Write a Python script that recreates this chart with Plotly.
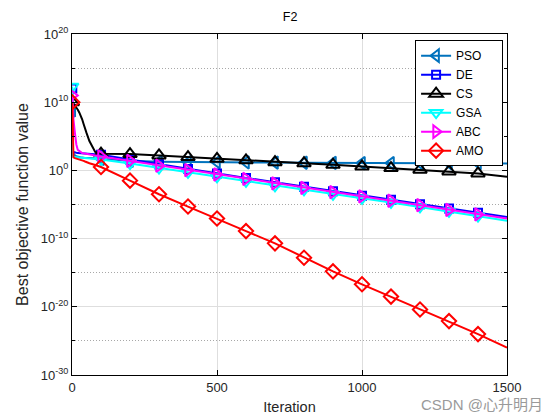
import plotly.graph_objects as go

# ---- data (log10 of best objective value) ----
ITER = [1, 2, 3, 5, 10, 15, 20, 25, 30, 35, 40, 45, 50, 60, 80,
        100, 200, 300, 400, 500, 600, 700, 800, 900, 1000, 1100, 1200, 1300, 1400, 1500]
MARK_ITERS = [1, 100, 200, 300, 400, 500, 600, 700, 800, 900, 1000, 1100, 1200, 1300, 1400]

PSO_LOG = [8.8, 4.0, 3.0, 2.5, 2.2, 2.1, 2.0, 1.95, 1.9, 1.9, 1.85, 1.85, 1.8, 1.8, 1.75,
           1.7, 1.4, 1.28, 1.22, 1.2, 1.18, 1.15, 1.12, 1.1, 1.08, 1.07, 1.06, 1.05, 1.05, 1.0]
DE_LOG = [12.0, 3.5, 2.9, 2.7, 2.6, 2.58, 2.56, 2.54, 2.52, 2.5, 2.48, 2.46, 2.45, 2.42, 2.38,
          2.3, 1.6, 0.9, 0.2, -0.45, -1.1, -1.75, -2.4, -3.05, -3.7, -4.3, -4.95, -5.6, -6.2, -6.85]
CS_LOG = [10.0, 10.0, 9.9, 9.8, 9.5, 9.3, 8.9, 8.5, 8.1, 7.5, 6.8, 6.0, 5.5, 4.3, 2.7,
          2.45, 2.4, 2.2, 1.95, 1.7, 1.47, 1.2, 1.05, 0.83, 0.59, 0.34, 0.1, -0.15, -0.45, -0.95]
GSA_LOG = [12.3, 3.0, 2.2, 2.0, 1.95, 1.93, 1.9, 1.88, 1.86, 1.84, 1.82, 1.8, 1.78, 1.74, 1.68,
           1.6, 1.0, 0.35, -0.3, -0.95, -1.6, -2.25, -2.85, -3.5, -4.1, -4.7, -5.35, -6.0, -6.7, -7.4]
ABC_LOG = [11.0, 10.0, 9.0, 7.5, 5.5, 3.8, 3.0, 2.8, 2.65, 2.55, 2.5, 2.45, 2.4, 2.3, 2.2,
           2.05, 1.4, 0.7, 0.05, -0.6, -1.25, -1.9, -2.55, -3.2, -3.8, -4.45, -5.1, -5.8, -6.45, -7.05]
AMO_LOG = [10.0, 5.0, 2.2, 1.9, 1.8, 1.75, 1.7, 1.6, 1.5, 1.45, 1.4, 1.3, 1.25, 1.05, 0.8,
           0.5, -1.5, -3.5, -5.3, -7.05, -8.9, -10.7, -12.8, -14.8, -16.7, -18.5, -20.4, -22.1, -24.0, -26.0]

NAMES = ["PSO", "DE", "CS", "GSA", "ABC", "AMO"]
SERIES = [PSO_LOG, DE_LOG, CS_LOG, GSA_LOG, ABC_LOG, AMO_LOG]
COLORS = ["#0072BD", "#0000FF", "#000000", "#00FFFF", "#FF00FF", "#FF0000"]
SYMBOLS = ["triangle-left-open", "square-open", "triangle-up-open",
           "triangle-down-open", "triangle-right-open", "diamond-open"]
SIZES = [11, 8, 12, 11, 11, 11]

Y_TICK_EXP = [20, 10, 0, -10, -20, -30]
Y_MINOR_EXP = [15, 5, -5, -15, -25]
X_TICKS = [0, 500, 1000, 1500]

FONT = "Liberation Sans, Arial, sans-serif"
PAD = "\u00a0" * 4  # right padding inside the legend box

fig = go.Figure()
for name, vals, col, sym, sz in zip(NAMES, SERIES, COLORS, SYMBOLS, SIZES):
    y = [10.0 ** v for v in vals]
    fig.add_trace(go.Scatter(x=ITER, y=y, mode="lines", line=dict(color=col, width=2),
                             showlegend=False, legendgroup=name, hoverinfo="skip"))
    mx = [i for i in ITER if i in MARK_ITERS]
    my = [yy for i, yy in zip(ITER, y) if i in MARK_ITERS]
    fig.add_trace(go.Scatter(x=mx, y=my, mode="markers",
                             marker=dict(symbol=sym, size=sz, color=col, line=dict(color=col, width=2)),
                             showlegend=False, legendgroup=name))
    fig.add_trace(go.Scatter(x=[None], y=[None], mode="lines+markers", name=name + PAD,
                             line=dict(color=col, width=2),
                             marker=dict(symbol=sym, size=sz, color=col, line=dict(color=col, width=2)),
                             legendgroup=name))

# the page body has an 8px margin, so the figure is drawn 8px right/down
fig.update_layout(
    width=552, height=412,
    margin=dict(l=64, r=53, t=26, b=45, autoexpand=False),
    paper_bgcolor="white", plot_bgcolor="white",
    font=dict(family=FONT, size=13, color="#262626"),
    title=dict(text="F2", x=0.511, xanchor="center", y=0.978, yanchor="middle",
               font=dict(size=12.5, color="black")),
    legend=dict(x=0.991, xanchor="right", y=0.982, yanchor="top",
                bgcolor="white", bordercolor="black", borderwidth=1,
                font=dict(size=12, color="black"), tracegroupgap=0,
                itemwidth=30),
    showlegend=True,
)
fig.update_xaxes(
    range=[0, 1500], tickvals=X_TICKS, ticks="inside", ticklen=5, tickcolor="black",
    showline=True, linecolor="black", linewidth=1, mirror="ticks", automargin=False,
    showgrid=True, gridcolor="#dedede", gridwidth=1, zeroline=False,
    title=dict(text="Iteration", standoff=8, font=dict(size=14.5, color="#262626")),
)
fig.update_yaxes(
    type="log", range=[-30, 20],
    tickvals=[10.0 ** e for e in Y_TICK_EXP],
    ticktext=["10<sup>%d</sup>" % e for e in Y_TICK_EXP],
    ticks="inside", ticklen=5, tickcolor="black",
    showline=True, linecolor="black", linewidth=1, mirror="ticks", automargin=False,
    showgrid=True, gridcolor="#dedede", gridwidth=1, zeroline=False,
    minor=dict(tickvals=[10.0 ** e for e in Y_MINOR_EXP], showgrid=True,
               gridcolor="#a8a8a8", griddash="1px,2px", ticks="inside", ticklen=3, tickcolor="black"),
    title=dict(text="Best objective function value", standoff=8, font=dict(size=16, color="#262626")),
)
fig.add_annotation(text="CSDN @心升明月", xref="paper", yref="paper",
                   x=1.087, y=-0.086, xanchor="right", yanchor="middle", showarrow=False,
                   font=dict(size=15, color="#9a9a9a", family="Liberation Sans, Noto Sans CJK SC"))

fig.write_html("out.html")
